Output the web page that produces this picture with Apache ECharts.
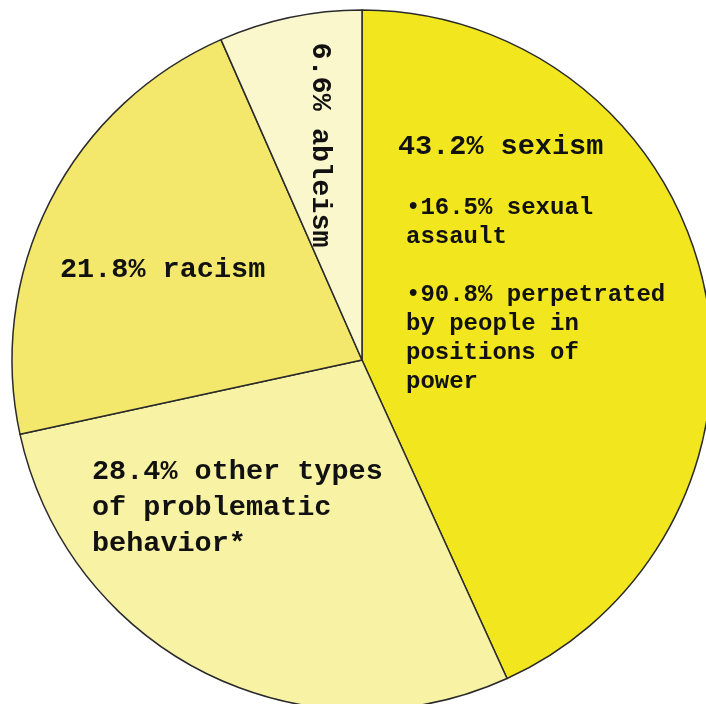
<!DOCTYPE html>
<html>
<head>
<meta charset="utf-8">
<script src="https://cdn.jsdelivr.net/npm/echarts@6/dist/echarts.min.js"></script>
<style>html,body{margin:0;padding:0;background:#fff;}#c{width:706px;height:704px;}</style>
</head>
<body>
<div id="c"></div>
<script>
const categories = ['sexism', 'other types of problematic behavior*', 'racism', 'ableism'];
const values = [43.2, 28.4, 21.8, 6.6];
const colors = ['#f2e71e', '#f8f2a4', '#f3e86c', '#fbf7cd'];
const labelTexts = [
  '{t|43.2% sexism}\n{g| }\n{s|•16.5% sexual}\n{s|assault}\n{s| }\n{s|•90.8% perpetrated}\n{s|by people in}\n{s|positions of}\n{s|power}',
  '{o|28.4% other types}\n{o|of problematic}\n{o|behavior*}',
  '{t|21.8% racism}',
  '{t|6.6% ableism}'
];
const FONT = '"Liberation Mono", "Courier New", monospace';
const layouts = [
  {x: 398, y: 131, align: 'left', verticalAlign: 'top'},
  {x: 92, y: 454, align: 'left', verticalAlign: 'top'},
  {x: 60, y: 270, align: 'left', verticalAlign: 'middle'},
  {x: 320, y: 145, align: 'center', verticalAlign: 'middle', rotate: -90}
];
const chart = echarts.init(document.getElementById('c'), null, {renderer: 'canvas'});
chart.setOption({
  animation: false,
  series: [{
    type: 'pie',
    center: [362, 360],
    radius: 350,
    startAngle: 90,
    clockwise: true,
    avoidLabelOverlap: false,
    itemStyle: {borderColor: '#2a2a2a', borderWidth: 1.5},
    emphasis: {disabled: true},
    label: {
      show: true,
      position: 'inside',
      formatter: p => labelTexts[p.dataIndex],
      fontFamily: FONT,
      fontWeight: 'bold',
      color: '#111',
      rich: {
        t: {fontFamily: FONT, fontWeight: 'bold', fontSize: 28.5, lineHeight: 32, color: '#111'},
        o: {fontFamily: FONT, fontWeight: 'bold', fontSize: 28.5, lineHeight: 36, color: '#111'},
        g: {fontSize: 10, lineHeight: 30},
        s: {fontFamily: FONT, fontWeight: 'bold', fontSize: 24, lineHeight: 29, color: '#111', padding: [0, 0, 0, 8]}
      }
    },
    labelLine: {show: false},
    labelLayout: p => layouts[p.dataIndex],
    data: categories.map((c, i) => ({name: c, value: values[i], itemStyle: {color: colors[i]}}))
  }]
});
</script>
</body>
</html>
